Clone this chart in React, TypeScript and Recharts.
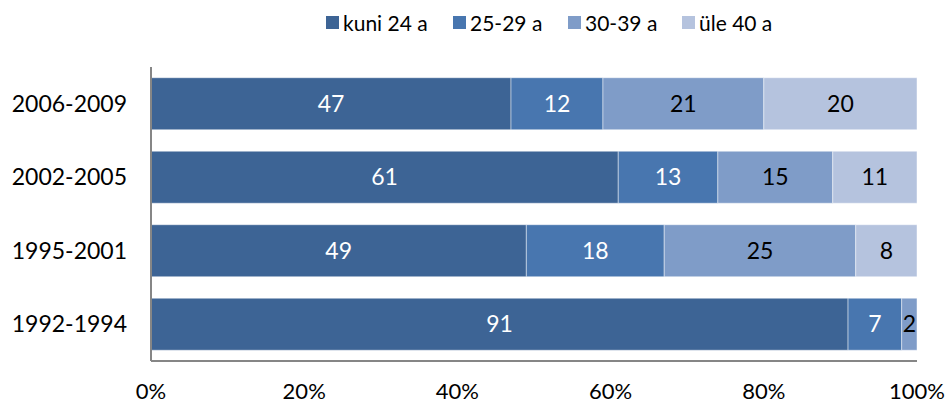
import React from "react";
import { BarChart, Bar, XAxis, YAxis, LabelList } from "recharts";

const periods = ["2006-2009", "2002-2005", "1995-2001", "1992-1994"];
const kuni24 = [47, 61, 49, 91];
const a25to29 = [12, 13, 18, 7];
const a30to39 = [21, 15, 25, 2];
const yle40 = [20, 11, 8, 0];
const xTicks = [0, 20, 40, 60, 80, 100];

const series = [
  { key: "kuni24", name: "kuni 24 a", color: "#3d6495", label: "#ffffff", legendX: 326 },
  { key: "a25", name: "25-29 a", color: "#4876af", label: "#ffffff", legendX: 453 },
  { key: "a30", name: "30-39 a", color: "#7f9cc8", label: "#000000", legendX: 568 },
  { key: "a40", name: "üle 40 a", color: "#b5c3de", label: "#000000", legendX: 682 },
];

const data = periods.map((p, i) => ({
  period: p,
  kuni24: kuni24[i],
  a25: a25to29[i],
  a30: a30to39[i],
  a40: yle40[i],
}));

const FONT = "Lato, 'Open Sans', sans-serif";

const LegendBox = () => (
  <div style={{ position: "absolute", left: 0, top: 0, width: 948, height: 45, fontFamily: FONT, fontSize: 21, color: "#000" }}>
    {series.map((s) => (
      <div key={s.key} style={{ position: "absolute", left: s.legendX, top: 8, display: "flex", alignItems: "center", height: 28 }}>
        <span style={{ width: 13, height: 13, background: s.color, display: "inline-block", marginRight: 4 }} />
        <span style={{ whiteSpace: "nowrap" }}>{s.name}</span>
      </div>
    ))}
  </div>
);

export default function App() {
  return (
    <div style={{ position: "absolute", left: 0, top: 0, width: 948, height: 405, background: "#fff" }}>
      <BarChart
        width={948}
        height={405}
        data={data}
        layout="vertical"
        margin={{ top: 67, right: 31, bottom: 14, left: 0 }}
        barCategoryGap="14.6%"
      >
        <XAxis
          type="number"
          domain={[0, 100]}
          ticks={xTicks}
          tickFormatter={(v) => `${v}%`}
          axisLine={{ stroke: "#868686", strokeWidth: 2 }}
          tickLine={false}
          tickSize={0}
          tickMargin={22}
          height={30}
          tick={{ fill: "#000", fontSize: 22, fontFamily: FONT }}
          interval={0}
        />
        <YAxis
          type="category"
          dataKey="period"
          width={151}
          axisLine={{ stroke: "#868686", strokeWidth: 2 }}
          tickLine={false}
          tickSize={0}
          tickMargin={24}
          tick={{ fill: "#000", fontSize: 23, fontFamily: FONT }}
        />
        {series.map((s) => (
          <Bar
            key={s.key}
            dataKey={s.key}
            name={s.name}
            stackId="a"
            fill={s.color}
            stroke="rgba(255,255,255,0.45)"
            strokeWidth={1}
            isAnimationActive={false}
          >
            <LabelList
              dataKey={s.key}
              position="center"
              formatter={(v: any) => (v ? v : "")}
              style={{ fill: s.label, fontSize: 23, fontFamily: FONT }}
            />
          </Bar>
        ))}
      </BarChart>
      <LegendBox />
    </div>
  );
}
